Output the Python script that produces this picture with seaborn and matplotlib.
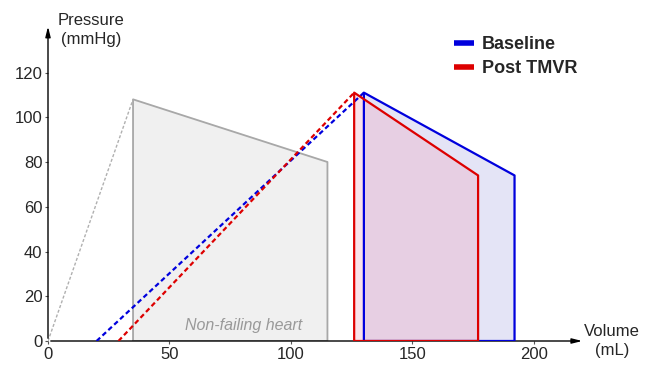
import numpy as np
import pandas as pd
import seaborn as sns
import matplotlib
matplotlib.use("Agg")
import matplotlib.pyplot as plt
from matplotlib.lines import Line2D

# DATA (pressure-volume loops)
normal_vol = [35, 35, 115, 115, 35]
normal_pres = [0, 108, 80, 0, 0]
normal_espvr_vol = [0, 35]
normal_espvr_pres = [0, 108]

base_vol = [130, 130, 192, 192, 130]
base_pres = [0, 111, 74, 0, 0]
base_espvr_vol = [20, 130]
base_espvr_pres = [0, 111]

post_vol = [126, 126, 177, 177, 126]
post_pres = [0, 111, 74, 0, 0]
post_espvr_vol = [29, 126]
post_espvr_pres = [0, 111]

x_ticks = [0, 50, 100, 150, 200]
y_ticks = [0, 20, 40, 60, 80, 100, 120]

BLUE = "#0000dd"
RED = "#dd0000"
GRAY = "#a8a8a8"

sns.set_style("white")
plt.rcParams["font.family"] = ["Liberation Sans", "DejaVu Sans"]

fig = plt.figure(figsize=(6.5, 3.81), dpi=100)
ax = fig.add_axes([48 / 650, 40 / 381, 537 / 650, 311 / 381])

# FILLS
ax.fill(normal_vol, normal_pres, color="#f0f0f0", zorder=1)
ax.fill(base_vol, base_pres, color="#e4e4f6", zorder=1)
ax.fill(post_vol, post_pres, color="#f0a0b8", alpha=0.3, zorder=2)

# LOOP OUTLINES
def loop(v, p, color, lw, z, dashed=False):
    df = pd.DataFrame({"v": v, "p": p})
    sns.lineplot(data=df, x="v", y="p", sort=False, estimator=None, color=color,
                 lw=lw, ax=ax, zorder=z, linestyle=(0, (2.2, 1.4)) if dashed else "-")

loop(normal_vol, normal_pres, GRAY, 1.3, 3)
loop(normal_espvr_vol, normal_espvr_pres, "#b0b0b0", 1.0, 3, dashed=True)
loop(base_espvr_vol, base_espvr_pres, BLUE, 1.6, 4, dashed=True)
loop(post_espvr_vol, post_espvr_pres, RED, 1.6, 4, dashed=True)
loop(base_vol, base_pres, BLUE, 1.6, 5)
loop(post_vol, post_pres, RED, 1.6, 5)

ax.text(80.5, 7, "Non-failing heart", color="#999999", fontsize=11.5, style="italic",
        ha="center", va="center")

# AXES
ax.set_xlim(0, 221)
ax.set_ylim(0, 139)
ax.set_xticks(x_ticks)
ax.set_yticks(y_ticks)
ax.set_xlabel("")
ax.set_ylabel("")
for s in ax.spines.values():
    s.set_visible(False)
ax.tick_params(axis="both", labelsize=12, length=2.5, width=0.8, color="#555555",
               left=True, bottom=True, pad=1.5)
arrow = dict(arrowstyle="-|>,head_length=0.6,head_width=0.15", color="black", lw=1)
ax.annotate("", xy=(1, 0), xytext=(0, 0), xycoords="axes fraction",
            arrowprops=arrow, annotation_clip=False)
ax.annotate("", xy=(0, 1.02), xytext=(0, 0), xycoords="axes fraction",
            arrowprops=arrow, annotation_clip=False)

fig.text(91 / 650, 1 - 30 / 381, "Pressure\n(mmHg)", ha="center", va="center", fontsize=12,
         linespacing=1.3)
fig.text(612 / 650, 1 - 341 / 381, "Volume\n(mL)", ha="center", va="center", fontsize=12,
         linespacing=1.3)

# LEGEND
handles = [Line2D([], [], color=BLUE, lw=4, solid_capstyle="butt"),
           Line2D([], [], color=RED, lw=4, solid_capstyle="butt")]
leg = fig.legend(handles, ["Baseline", "Post TMVR"], loc="upper left",
                 bbox_to_anchor=(454 / 650, 1 - 36 / 381), frameon=False,
                 handlelength=1.1, handletextpad=0.45, labelspacing=0.4,
                 prop={"weight": "bold", "size": 13}, borderaxespad=0, borderpad=0)

fig.savefig("out.png", dpi=100)
